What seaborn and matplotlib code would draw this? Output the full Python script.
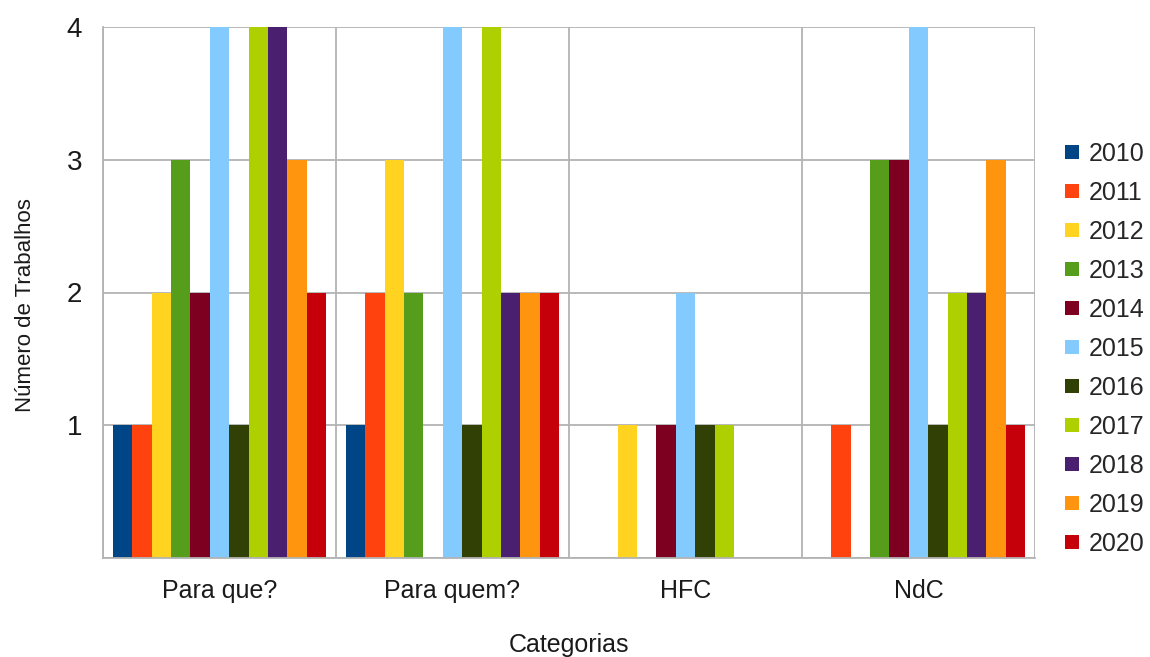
import matplotlib
matplotlib.use("Agg")
import matplotlib.pyplot as plt
from matplotlib.lines import Line2D
import seaborn as sns
import pandas as pd

categorias = ["Para que?", "Para quem?", "HFC", "NdC"]
anos = ["2010", "2011", "2012", "2013", "2014", "2015",
        "2016", "2017", "2018", "2019", "2020"]

para_que = [1, 1, 2, 3, 2, 4, 1, 4, 4, 3, 2]
para_quem = [1, 2, 3, 2, 0, 4, 1, 4, 2, 2, 2]
hfc = [0, 0, 1, 0, 1, 2, 1, 1, 0, 0, 0]
ndc = [0, 1, 0, 3, 3, 4, 1, 2, 2, 3, 1]

cores = ["#004586", "#ff420e", "#ffd320", "#579d1c", "#7e0021", "#83caff",
         "#314004", "#aecf00", "#4b1f6f", "#ff950e", "#c5000b"]

linhas = []
for cat, vals in zip(categorias, [para_que, para_quem, hfc, ndc]):
    for ano, v in zip(anos, vals):
        linhas.append({"Categoria": cat, "Ano": ano, "Trabalhos": v})
df = pd.DataFrame(linhas)

sns.set_style("white")
plt.rcParams["font.family"] = ["Liberation Sans", "DejaVu Sans"]

texto = "#1a1a1a"
grade = "#b3b3b3"

fig = plt.figure(figsize=(11.5, 6.57), dpi=100)
ax = fig.add_axes([103 / 1150, 1 - 558 / 657, (1035 - 103) / 1150, (558 - 27) / 657])

sns.barplot(data=df, x="Categoria", y="Trabalhos", hue="Ano",
            order=categorias, hue_order=anos, palette=cores, saturation=1,
            width=11 / 12, gap=0, linewidth=0, errorbar=None,
            legend=False, ax=ax)

ax.set_xlim(-0.5, len(categorias) - 0.5)
ax.set_ylim(0, 4)
ax.set_yticks([0, 1, 2, 3, 4])
ax.set_yticklabels(["", "1", "2", "3", "4"])

# category boundaries as minor ticks carrying the vertical grid
ax.set_xticks([i - 0.5 for i in range(len(categorias) + 1)], minor=True)
ax.tick_params(axis="x", which="major", length=0, pad=15, labelsize=18, colors=texto)
ax.tick_params(axis="x", which="minor", length=7, width=1.3, color=grade)
ax.tick_params(axis="y", which="major", length=6, width=1.3, color=grade,
               labelsize=20, colors=texto, pad=9)

ax.grid(False)
ax.grid(True, axis="y", which="major", color=grade, linewidth=1.3)
ax.grid(True, axis="x", which="minor", color=grade, linewidth=1.3)
ax.set_axisbelow(True)

for side in ["top", "right"]:
    ax.spines[side].set_visible(False)
for side in ["left", "bottom"]:
    ax.spines[side].set_color(grade)
    ax.spines[side].set_linewidth(1.3)

ax.set_xlabel("Categorias", fontsize=18, color=texto, labelpad=22)
ax.set_ylabel("Número de Trabalhos", fontsize=16, color=texto)
ax.yaxis.set_label_coords(-0.072, 0.476)

handles = [Line2D([0], [0], marker="s", linestyle="none", markersize=10,
                  markerfacecolor=c, markeredgewidth=0) for c in cores]
fig.legend(handles, anos, loc="center left",
           bbox_to_anchor=(1062 / 1150, 1 - 349 / 657),
           frameon=False, fontsize=18, labelspacing=0.6,
           handletextpad=0.25, handlelength=0.8, borderaxespad=0,
           borderpad=0)

fig.savefig("out.png", dpi=100)
